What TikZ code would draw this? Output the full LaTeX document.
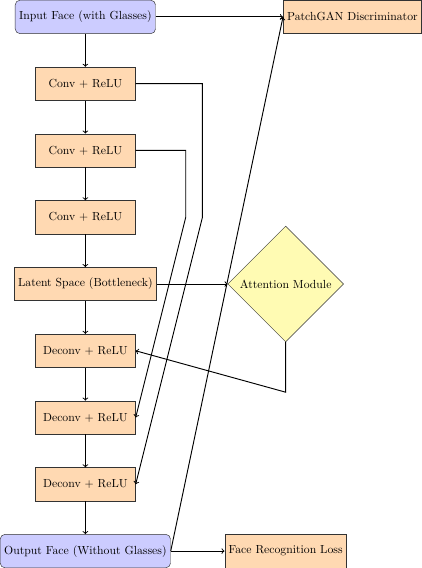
\documentclass[tikz,border=0pt]{standalone}
\usepackage{tikz}
\usetikzlibrary{shapes.geometric, positioning}

\begin{document}
\begin{tikzpicture}[
  io/.style={rectangle, rounded corners, draw=black!80, fill=blue!20, minimum width=3cm, minimum height=1cm},
  layer/.style={rectangle, draw=black!80, fill=orange!30, minimum width=3cm, minimum height=1cm},
  attn/.style={diamond, draw=black!80, fill=yellow!30},
  arr/.style={->, thick}]
\node[io] (in) at (0,0) {Input Face (with Glasses)};
\node[layer] (c1) at (0,-2) {Conv + ReLU};
\node[layer] (c2) at (0,-4) {Conv + ReLU};
\node[layer] (c3) at (0,-6) {Conv + ReLU};
\node[layer] (lat) at (0,-8) {Latent Space (Bottleneck)};
\node[layer] (d1) at (0,-10) {Deconv + ReLU};
\node[layer] (d2) at (0,-12) {Deconv + ReLU};
\node[layer] (d3) at (0,-14) {Deconv + ReLU};
\node[io] (out) at (0,-16) {Output Face (Without Glasses)};
\node[attn] (att) at (6,-8) {Attention Module};
\node[layer] (disc) at (8,0) {PatchGAN Discriminator};
\node[layer] (frl) at (6,-16) {Face Recognition Loss};
% main path
\foreach \a/\b in {in/c1, c1/c2, c2/c3, c3/lat, lat/d1, d1/d2, d2/d3, d3/out}
  \draw[arr] (\a) -- (\b);
% skips
\draw[arr] (c1.east) -- ++(2,0) -- ++(0,-4) -- (d3.east);
\draw[arr] (c2.east) -- ++(1.5,0) -- ++(0,-2) -- (d2.east);
% attention
\draw[arr] (lat) -- (att);
\draw[arr] (att.south) -- ++(0,-1.5) -- (d1.east);
% losses
\draw[arr] (in) -- (disc);
\draw[arr] (out.east) -- (disc.west);
\draw[arr] (out) -- (frl);
\end{tikzpicture}
\end{document}
